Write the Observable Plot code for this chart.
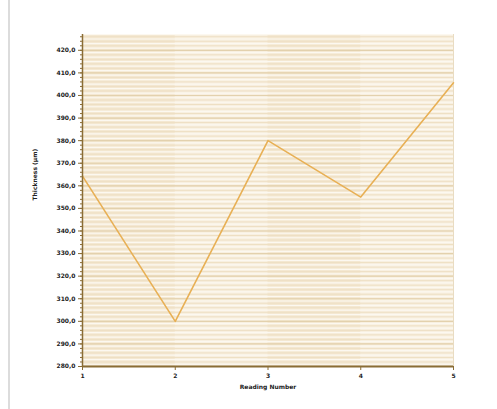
<!DOCTYPE html>
<html><head><meta charset="utf-8">
<script src="https://cdn.jsdelivr.net/npm/d3@7"></script>
<script src="https://cdn.jsdelivr.net/npm/@observablehq/plot@0.6"></script>
<style>
body{margin:0;background:#fff;}
#wrap{position:relative;width:497px;height:409px;}
#wrap::before{content:"";position:absolute;left:8px;top:0;width:2px;height:409px;background:#dcdcdc;}
</style>
</head><body><div id="wrap"></div>
<script>
const readings = [1, 2, 3, 4, 5];
const thickness = [364.3, 300, 380, 355, 405.6];
const yTicks = [280, 290, 300, 310, 320, 330, 340, 350, 360, 370, 380, 390, 400, 410, 420];
const yMinor = d3.range(280, 428, 2);
const yStripes = d3.range(281, 428, 2);
const bandsDark = [[1, 2], [3, 4]];

const data = readings.map((r, i) => ({r, v: thickness[i]}));
const fmt = d => d.toFixed(1).replace(".", ",");
const axisColor = "#8a6d35";

const chart = Plot.plot({
  width: 497, height: 409,
  marginLeft: 82, marginRight: 44, marginTop: 34, marginBottom: 43,
  style: {fontFamily: "DejaVu Sans, sans-serif", fontSize: "6px", background: "transparent"},
  x: {domain: [1, 5], ticks: readings, tickFormat: d => String(d), label: null},
  y: {domain: [280, 427], label: null},
  marks: [
    Plot.frame({fill: "#f8f0e1", stroke: "#e9dcc2"}),
    Plot.rect(bandsDark, {x1: d => d[0], x2: d => d[1], y1: 280, y2: 427, fill: "#f4e8d2"}),
    Plot.ruleY(yStripes, {stroke: "#fcf8f0", strokeWidth: 1.2}),
    Plot.ruleY(yMinor, {stroke: "#eedfc3", strokeWidth: 1}),
    Plot.ruleY(yTicks, {stroke: "#e3d1ad", strokeWidth: 1.2}),
    Plot.line(data, {x: "r", y: "v", stroke: "#e8b055", strokeWidth: 1.6}),
    Plot.axisY(yMinor, {tickSize: 2, tickFormat: () => "", stroke: axisColor}),
    Plot.axisY(yTicks, {tickSize: 4, tickPadding: 3, tickFormat: fmt, fill: "#222", fontWeight: "bold", stroke: axisColor, label: null}),
    Plot.axisX(readings, {tickSize: 4, tickPadding: 3, fill: "#222", fontWeight: "bold", stroke: axisColor, label: null}),
    Plot.ruleX([1], {stroke: axisColor, strokeWidth: 1.5}),
    Plot.ruleY([280], {stroke: axisColor, strokeWidth: 2}),
    Plot.text(["Reading Number"], {frameAnchor: "bottom", dy: 22, fontWeight: "bold", fill: "#222", fontSize: 6}),
    Plot.text(["Thickness (µm)"], {frameAnchor: "left", dx: -47, rotate: -90, fontWeight: "bold", fill: "#222", fontSize: 6})
  ]
});
document.getElementById("wrap").appendChild(chart);
chart.style.position = "absolute"; chart.style.left = "0"; chart.style.top = "0";
</script>
</body></html>
